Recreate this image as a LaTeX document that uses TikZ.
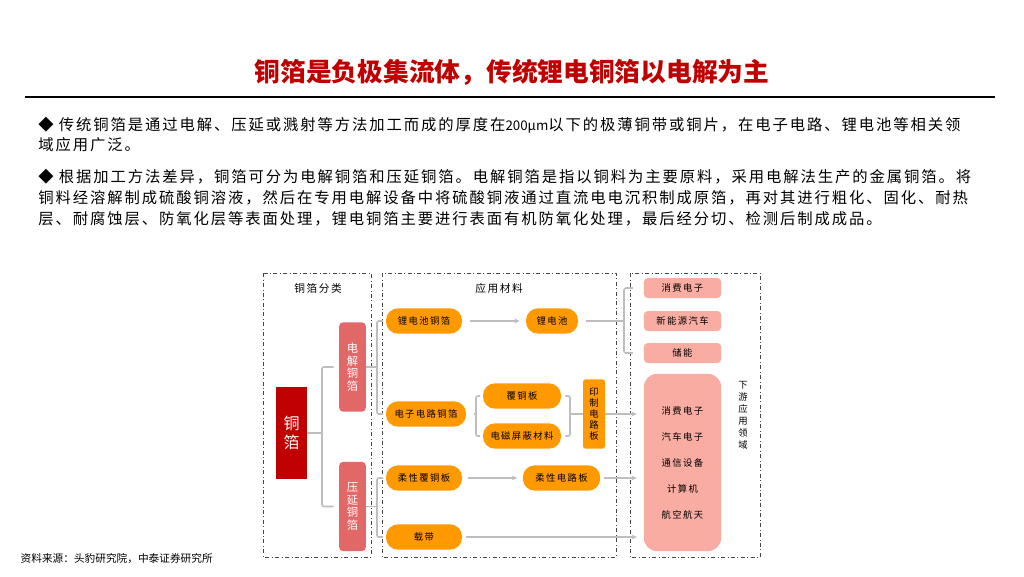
\documentclass[tikz,border=0pt]{standalone}
\usepackage{fontspec}
\setmainfont{Noto Sans CJK SC}
\newfontfamily\bodyfont[LetterSpace=12.5]{Noto Sans CJK SC}
\newfontfamily\dgfont[LetterSpace=15]{Noto Sans CJK SC}
\usetikzlibrary{arrows.meta, positioning, calc}
\definecolor{titlered}{RGB}{192, 0, 0}
\definecolor{typered}{RGB}{226, 104, 104}
\definecolor{matorange}{RGB}{255, 153, 0}
\definecolor{usepink}{RGB}{248, 172, 162}
\definecolor{linkgray}{RGB}{190, 190, 190}
\definecolor{grpgray}{RGB}{70, 70, 70}

\begin{document}
\begin{tikzpicture}[x=0.75pt, y=-0.75pt,
    bodytxt/.style={anchor=west, inner sep=0pt, font=\bodyfont\fontsize{11.5}{14}\selectfont},
    grp/.style={draw=grpgray, dash dot, line width=0.7pt},
    grplabel/.style={font=\dgfont\fontsize{8}{9}\selectfont},
    foil/.style={rectangle, fill=titlered, text=white, minimum width=23pt, minimum height=69pt, align=center, font=\fontsize{12}{14}\selectfont},
    ftype/.style={rectangle, fill=typered, text=white, rounded corners=3pt, minimum width=20pt, minimum height=67pt, align=center, font=\fontsize{8.5}{9.4}\selectfont},
    mat/.style={rectangle, fill=matorange, rounded corners=9pt, minimum width=57pt, minimum height=19pt, inner sep=1pt, font=\dgfont\fontsize{7}{8}\selectfont},
    pcbbox/.style={rectangle, fill=matorange, rounded corners=2pt, minimum width=16.5pt, minimum height=52pt, inner sep=1pt, align=center, font=\fontsize{7}{8.25}\selectfont},
    use/.style={rectangle, fill=usepink, rounded corners=3pt, minimum width=58pt, minimum height=15pt, inner sep=1pt, font=\dgfont\fontsize{7}{8}\selectfont},
    usebig/.style={rectangle, fill=usepink, rounded corners=10pt, minimum width=58pt, minimum height=133pt, align=center, font=\dgfont\fontsize{7}{19.5}\selectfont},
    link/.style={draw=linkgray, line width=1.2pt, rounded corners=1.5pt},
    arrow/.style={-{Stealth[length=4pt, width=3.5pt]}, draw=linkgray, line width=1.2pt}
  ]
    \useasboundingbox[fill=white] (0,0) rectangle (1024,576);

    % title and text
    \node[text=titlered, font=\bfseries\fontsize{19.3}{23}\selectfont] (title) at (512,72) {铜箔是负极集流体，传统锂电铜箔以电解为主};
    \draw[line width=1.5pt] (25,97) -- (995,97);
    \node[bodytxt] (p1a) at (38,125) {◆ 传统铜箔是通过电解、压延或溅射等方法加工而成的厚度在{\addfontfeature{LetterSpace=0}\fontsize{10}{12}\selectfont 200μm}以下的极薄铜带或铜片，在电子电路、锂电池等相关领};
    \node[bodytxt] (p1b) at (38,145) {域应用广泛。};
    \node[bodytxt] (p2a) at (38,177) {◆ 根据加工方法差异，铜箔可分为电解铜箔和压延铜箔。电解铜箔是指以铜料为主要原料，采用电解法生产的金属铜箔。将};
    \node[bodytxt] (p2b) at (38,198) {铜料经溶解制成硫酸铜溶液，然后在专用电解设备中将硫酸铜液通过直流电电沉积制成原箔，再对其进行粗化、固化、耐热};
    \node[bodytxt] (p2c) at (38,219) {层、耐腐蚀层、防氧化层等表面处理，锂电铜箔主要进行表面有机防氧化处理，最后经分切、检测后制成成品。};

    % group frames
    \draw[grp] (263,273) rectangle (371,557);
    \draw[grp] (382,273) rectangle (616,557);
    \draw[grp] (630,273) rectangle (760,557);
    \node[grplabel] (lblfen) at (318,288) {铜箔分类};
    \node[grplabel] (lblcai) at (499,288) {应用材料};
    \node[align=center, font=\fontsize{7}{9}\selectfont] (lblxia) at (743,415) {下\\游\\应\\用\\领\\域};

    % foil types
    \node[foil] (tongbo) at (291.5,433) {铜\\箔};
    \node[ftype] (dianjie) at (352.5,367) {电\\解\\铜\\箔};
    \node[ftype] (yayan) at (352.5,506.5) {压\\延\\铜\\箔};

    % materials
    \node[mat] (lidcbo) at (424,321) {锂电池铜箔};
    \node[mat, minimum width=39pt] (lidc) at (552,321) {锂电池};
    \node[mat, minimum width=60pt] (dzbo) at (426,414) {电子电路铜箔};
    \node[mat, minimum width=58.5pt] (fcb) at (522,396) {覆铜板};
    \node[mat, minimum width=58.5pt] (dcpb) at (522,436) {电磁屏蔽材料};
    \node[pcbbox] (pcb) at (594,414) {印\\制\\电\\路\\板};
    \node[mat] (rxfcb) at (424,478) {柔性覆铜板};
    \node[mat, minimum width=58pt] (rxdlb) at (561.5,478) {柔性电路板};
    \node[mat] (zaidai) at (424,537) {载带};

    % downstream
    \node[use] (xfdz) at (682.5,288) {消费电子};
    \node[use] (xny) at (682.5,321) {新能源汽车};
    \node[use] (chuneng) at (682.5,353) {储能};
    \node[usebig] (big) at (682.5,462.5) {消费电子\\汽车电子\\通信设备\\计算机\\航空航天};

    % brackets
    \coordinate (brkA) at (322,433);
    \coordinate (brkB) at (377,367);
    \coordinate (brkC) at (377,506.5);
    \coordinate (brkD) at (476,414);
    \coordinate (brkE) at (570,414);
    \coordinate (brkF) at (624,321);
    \draw[link] (tongbo.east) -- (brkA);
    \draw[link, shorten <=4pt, shorten >=4pt] (dianjie.west) -| (brkA) |- (yayan.west);
    \draw[link] (dianjie.east) -- (brkB);
    \draw[link, shorten <=2pt, shorten >=2pt] (lidcbo.west) -| (brkB) |- (dzbo.west);
    \draw[link] (yayan.east) -- (brkC);
    \draw[link, shorten <=2pt, shorten >=2pt] (rxfcb.west) -| (brkC) |- (zaidai.west);
    \draw[link, shorten <=6pt] (dzbo.east) -- (brkD);
    \draw[link, shorten <=2pt, shorten >=2pt] (fcb.west) -| (brkD) |- (dcpb.west);
    \draw[link, shorten <=3pt, shorten >=3pt] (fcb.east) -| (brkE) |- (dcpb.east);
    \draw[link] (brkE) -- (pcb.west);
    \draw[link, shorten <=6pt] (lidc.east) -- (brkF);
    \draw[link, shorten <=8pt, shorten >=8pt] (xfdz.west) -| (brkF) |- (chuneng.west);

    % arrows
    \draw[arrow, shorten <=6pt, shorten >=4.5pt] (lidcbo) -- (lidc);
    \draw[arrow, shorten <=4pt, shorten >=4pt] (rxfcb) -- (rxdlb);
    \draw[arrow, shorten >=5pt] (pcb.east) -- (pcb.east -| big.west);
    \draw[arrow, shorten <=3pt, shorten >=5pt] (rxdlb.east) -- (rxdlb.east -| big.west);
    \draw[arrow, shorten <=3pt, shorten >=5pt] (zaidai.east) -- (zaidai.east -| big.west);

    % source
    \node[anchor=west, font=\fontsize{8}{9}\selectfont] (src) at (16,559) {资料来源：头豹研究院，中泰证券研究所};
\end{tikzpicture}
\end{document}
